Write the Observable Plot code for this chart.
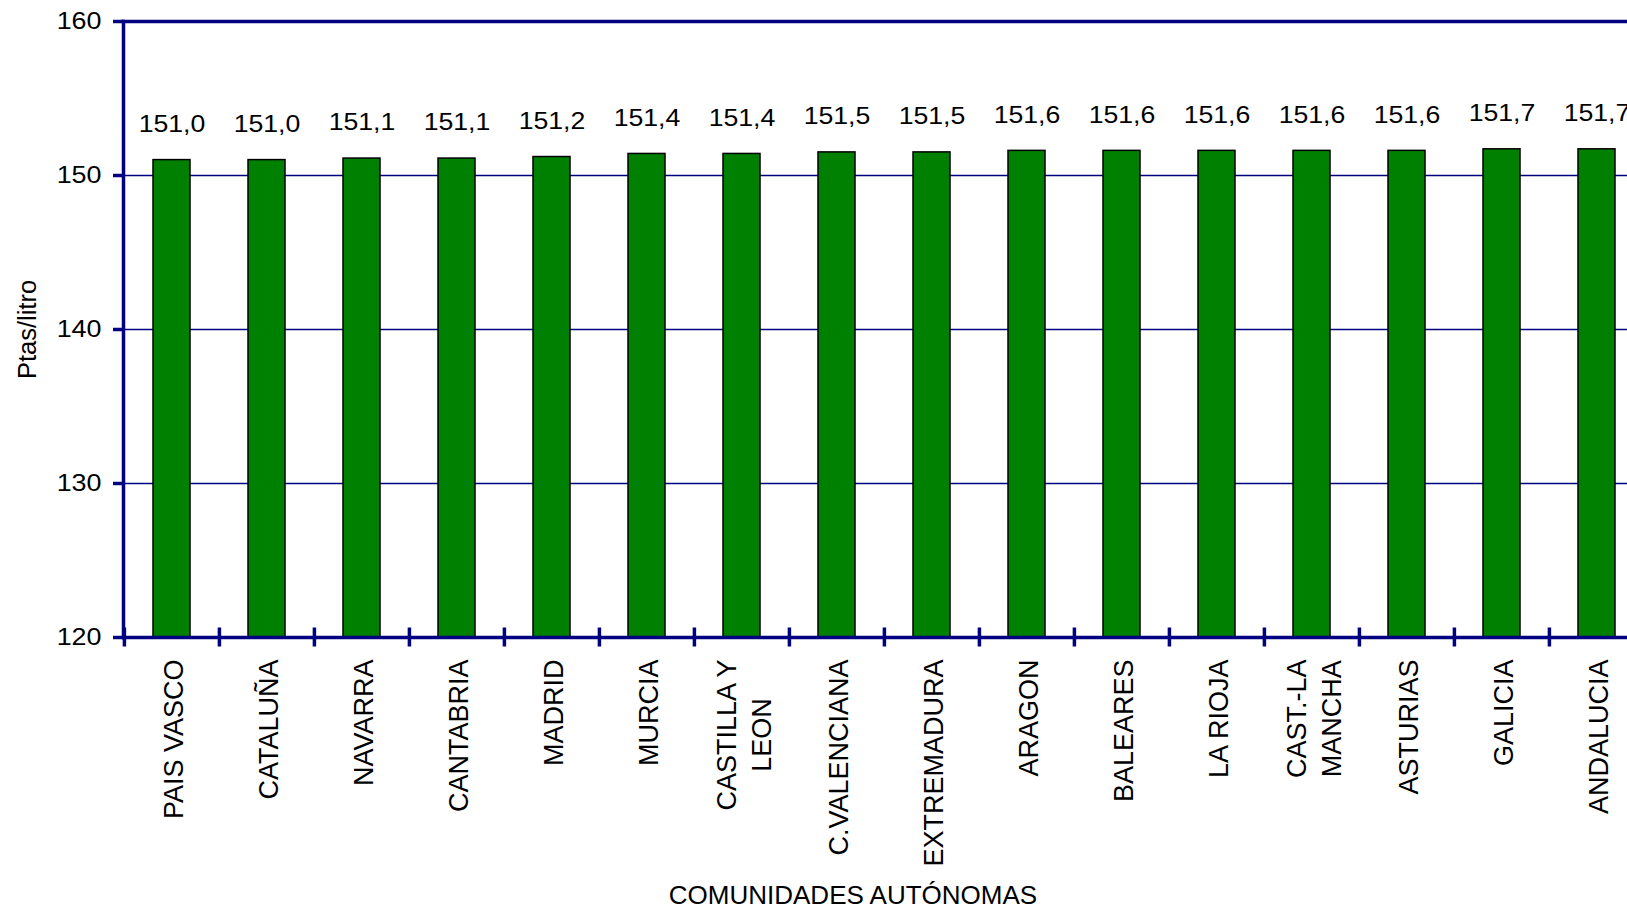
<!DOCTYPE html>
<html>
<head>
<meta charset="utf-8">
<script src="https://cdn.jsdelivr.net/npm/d3@7"></script>
<script src="https://cdn.jsdelivr.net/npm/@observablehq/plot@0.6"></script>
<style>
  html, body { margin: 0; padding: 0; background: #fff; overflow: hidden; }
  #chart svg { max-width: none !important; display: block; }
</style>
</head>
<body>
<div id="chart"></div>
<script>
const categories = ["PAIS VASCO", "CATALUÑA", "NAVARRA", "CANTABRIA", "MADRID", "MURCIA",
  "CASTILLA Y\nLEON", "C.VALENCIANA", "EXTREMADURA", "ARAGON", "BALEARES", "LA RIOJA",
  "CAST.-LA\nMANCHA", "ASTURIAS", "GALICIA", "ANDALUCIA"];
const values = [151.0, 151.0, 151.1, 151.1, 151.2, 151.4, 151.4, 151.5, 151.5, 151.6,
  151.6, 151.6, 151.6, 151.6, 151.7, 151.7];
const yTicks = [120, 130, 140, 150, 160];
const gridTicks = [130, 140, 150];
const yLabel = "Ptas/litro";
const xLabel = "COMUNIDADES AUTÓNOMAS";

const data = categories.map((c, i) => ({region: c, value: values[i]}));

const W = 1660, H = 910, ML = 123, MR = 14, MT = 21, MB = 273;
const step = (W - ML - MR) / categories.length;
const navy = "#000080";
const font = "Liberation Sans, Arial, Helvetica, sans-serif";
const fmt = v => v.toFixed(1).replace(".", ",");

const chart = Plot.plot({
  width: W, height: H,
  marginLeft: ML, marginRight: MR, marginTop: MT, marginBottom: MB,
  style: {fontFamily: font, background: "#fff", color: "#000"},
  x: {type: "band", domain: categories, paddingInner: 0.61, paddingOuter: 0.305, label: null},
  y: {domain: [yTicks[0], yTicks[yTicks.length - 1]], label: null},
  marks: [
    Plot.gridY(gridTicks, {stroke: navy, strokeOpacity: 1, strokeWidth: 1.5}),
    Plot.barY(data, {x: "region", y1: () => yTicks[0], y2: "value", fill: "#008000", stroke: "#000", strokeWidth: 1.5}),
    Plot.text(data, {x: "region", y: "value", text: d => fmt(d.value), dy: -36, lineAnchor: "middle", fontSize: 24, fill: "#000"}),
    Plot.frame({anchor: "left", stroke: navy, strokeWidth: 3.5}),
    Plot.frame({anchor: "top", stroke: navy, strokeWidth: 3.5}),
    Plot.frame({anchor: "bottom", stroke: navy, strokeWidth: 3.5}),
    Plot.axisY(yTicks, {tickSize: 10, tickPadding: 12, stroke: navy, strokeWidth: 3.5, fill: "#000", fontSize: 24, label: null}),
    Plot.axisX(categories, {tickSize: 19, dx: -step / 2, dy: -9.5, stroke: navy, strokeWidth: 3.5, fill: "none", label: null}),
    Plot.axisX(categories, {tickSize: 0, tickPadding: 22, tickRotate: -90, fill: "#000", fontSize: 27, lineHeight: 1.3, label: null}),
    Plot.text([yLabel], {frameAnchor: "left", text: d => d, rotate: -90, dx: -96, textAnchor: "middle", lineAnchor: "middle", fontSize: 25.5, fill: "#000"}),
    Plot.text([xLabel], {frameAnchor: "bottom", text: d => d, dx: -32, dy: 266, textAnchor: "middle", lineAnchor: "bottom", fontSize: 26, fill: "#000"})
  ]
});

document.getElementById("chart").appendChild(chart);

// center multi-line rotated category labels relative to each other
chart.querySelectorAll('g[aria-label="x-axis tick label"] text').forEach(t => {
  const spans = t.querySelectorAll("tspan");
  if (spans.length > 1) {
    let L = 0;
    spans.forEach(s => { L = Math.max(L, s.getComputedTextLength()); });
    t.setAttribute("text-anchor", "middle");
    spans.forEach(s => s.setAttribute("x", -L / 2));
  }
});

// the reference's horizontal labels are slightly wide-set: stretch glyphs horizontally
function widen(nodes, k) {
  nodes.forEach(t => {
    const L = t.getComputedTextLength();
    t.setAttribute("textLength", L * k);
    t.setAttribute("lengthAdjust", "spacingAndGlyphs");
  });
}
const textGroups = chart.querySelectorAll('g[aria-label="text"]');
if (textGroups[0]) widen(textGroups[0].querySelectorAll("text"), 1.11);
widen(chart.querySelectorAll('g[aria-label="y-axis tick label"] text'), 1.12);
</script>
</body>
</html>
